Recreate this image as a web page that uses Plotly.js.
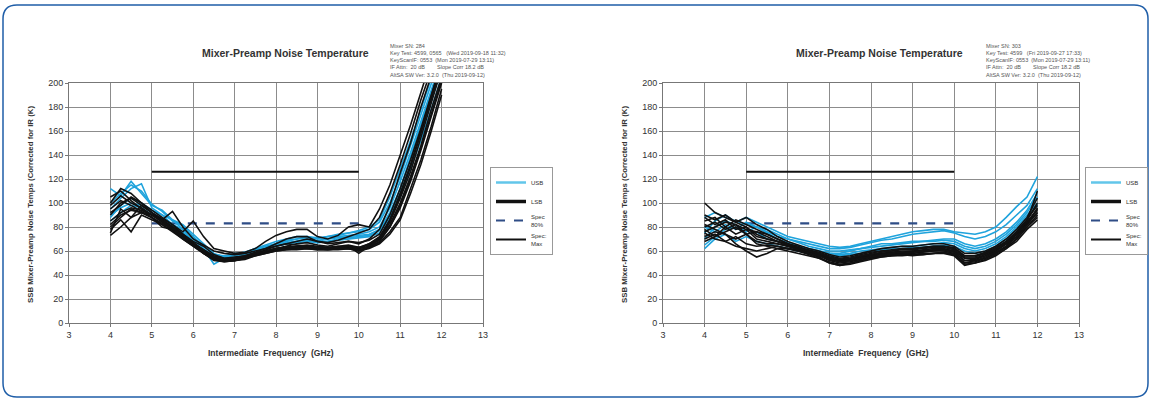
<!DOCTYPE html>
<html>
<head>
<meta charset="utf-8">
<script src="https://cdn.plot.ly/plotly-3.0.1.min.js"></script>
<style>
html,body{margin:0;padding:0;background:#fff;}
#chart{width:1151px;height:400px;}
</style>
</head>
<body>
<div id="chart"></div>
<script>
// ---- data ----
const FREQ_GHZ = [4,4.25,4.5,4.75,5,5.25,5.5,5.75,6,6.25,6.5,6.75,7,7.25,7.5,7.75,8,8.25,8.5,8.75,9,9.25,9.5,9.75,10,10.25,10.5,10.75,11,11.25,11.5,11.75,12];

const X_TICKS = [3,4,5,6,7,8,9,10,11,12,13];
const Y_TICKS = [0,20,40,60,80,100,120,140,160,180,200];

const SPEC_X = [5,10];
const SPEC_80 = [83,83];
const SPEC_MAX = [126,126];

// Left chart (Mixer SN 284)
const LEFT_USB = [
  [112,106,118,108,98,94,86,82,74,66,58,55,56,58,62,65,68,70,72,72,70,72,74,75,76,78,84,100,122,148,175,200,225],
  [95,104,112,116,96,90,86,78,72,62,49,54,55,57,60,63,66,68,70,71,68,70,71,72,73,74,78,92,112,138,165,192,218],
  [88,98,104,100,94,90,82,78,68,60,54,55,58,58,61,64,66,69,70,72,71,72,73,75,77,80,86,105,128,152,178,204,230],
  [85,92,98,96,90,86,82,75,70,62,56,55,57,59,62,64,65,67,68,70,69,70,72,73,74,76,80,96,118,142,168,195,220],
  [100,108,115,110,99,93,85,81,72,64,57,56,57,59,61,63,64,66,67,68,67,68,70,71,72,73,77,90,108,132,158,185,212],
  [90,96,100,98,92,87,81,76,67,61,55,53,54,56,59,62,64,66,68,69,67,68,69,70,71,72,75,88,105,128,152,178,205]
];
const LEFT_LSB = [
  [75,95,88,98,92,85,80,74,67,60,54,52,52,54,57,59,61,62,63,63,62,62,63,63,62,64,70,82,100,122,148,178,205],
  [80,88,95,92,88,80,78,72,66,58,53,51,52,53,56,58,60,61,62,62,61,61,62,62,60,63,68,80,96,118,144,172,200],
  [105,110,102,95,90,86,93,80,70,65,60,58,57,58,60,62,64,66,65,64,63,62,64,63,62,66,72,86,106,130,158,188,215],
  [100,112,108,100,94,88,82,74,68,64,57,54,54,55,58,60,62,63,64,64,63,63,63,64,63,65,70,84,104,126,154,184,212],
  [90,100,104,98,92,87,82,76,85,72,62,60,58,59,62,68,73,76,78,78,72,70,73,80,82,80,95,115,140,165,192,220,240],
  [85,92,96,94,90,86,80,72,66,60,55,52,53,55,57,59,62,64,66,67,65,64,66,68,66,70,78,98,125,150,180,208,232],
  [95,102,98,93,88,82,76,70,64,58,52,51,52,54,56,58,60,61,61,62,61,61,61,62,60,62,66,74,86,108,132,160,190],
  [78,86,76,90,86,82,77,70,64,58,53,52,53,55,58,61,64,66,68,70,68,67,69,72,75,78,88,108,132,158,186,212,236],
  [92,98,105,100,92,86,80,73,66,61,56,54,55,56,59,62,66,70,72,72,68,66,67,68,67,69,74,90,112,136,162,190,218],
  [98,106,100,96,90,84,78,72,65,59,54,52,53,54,57,59,61,62,62,63,62,61,62,62,61,63,67,76,88,112,136,164,195],
  [82,90,94,92,88,83,78,71,65,60,55,53,54,55,58,60,62,63,64,65,64,63,64,65,63,66,71,86,108,132,160,190,218],
  [73,80,88,92,90,85,79,73,67,61,55,53,54,56,58,60,62,63,63,64,63,62,63,64,58,64,69,80,98,120,146,175,202]
];

// Right chart (Mixer SN 303)
const RIGHT_USB = [
  [75,85,90,84,88,84,80,76,72,70,68,66,64,63,64,66,68,70,72,74,76,77,78,78,76,75,74,76,80,88,97,105,122],
  [70,80,85,82,76,80,76,72,70,68,66,64,62,62,63,65,67,69,70,72,74,75,76,77,75,72,70,72,76,82,90,98,112],
  [65,72,78,80,74,76,70,68,66,64,62,60,58,58,60,62,63,64,65,66,67,68,68,69,68,64,62,64,68,74,82,92,105],
  [88,92,88,85,82,80,78,74,70,67,64,62,60,60,61,62,64,66,66,67,68,68,69,70,70,66,64,66,70,76,84,94,108],
  [80,76,82,78,84,80,75,70,67,64,62,60,58,57,58,60,61,62,63,64,64,65,66,67,66,62,60,62,66,72,80,90,100],
  [62,70,74,68,72,68,66,64,62,60,58,57,56,56,57,58,60,61,62,62,63,63,64,65,64,60,58,60,64,70,78,88,98]
];
const RIGHT_LSB = [
  [100,92,88,84,80,72,70,68,66,64,60,58,55,53,54,56,58,60,60,62,62,63,64,64,62,56,56,58,62,68,76,86,100],
  [85,88,80,86,82,78,74,70,66,62,60,58,54,52,53,55,57,58,59,60,60,61,62,62,60,54,54,56,60,66,74,84,95],
  [78,72,80,74,78,70,68,66,64,62,60,56,52,50,51,53,55,56,57,58,58,59,60,60,58,50,52,54,58,64,72,82,92],
  [70,74,68,72,66,64,65,64,62,60,58,55,50,48,49,51,53,55,56,56,57,57,58,58,56,48,50,52,56,62,70,80,88],
  [82,78,74,66,60,55,58,62,62,61,59,57,54,52,53,55,56,57,58,58,59,60,61,61,59,52,53,56,60,66,74,84,94],
  [90,86,90,84,88,82,78,72,68,65,62,60,57,55,56,58,60,62,63,64,64,65,66,66,64,58,58,60,64,70,78,88,104],
  [75,70,68,64,62,60,62,64,62,60,57,54,51,49,50,52,54,55,56,57,57,58,58,59,57,50,51,54,58,63,70,80,90],
  [68,72,76,80,74,76,72,68,64,62,60,57,53,51,52,54,56,58,58,59,60,60,61,61,60,54,54,57,61,66,72,82,96],
  [80,84,78,82,78,76,74,70,66,63,61,59,56,54,55,57,59,60,61,62,62,63,64,64,63,56,56,59,63,68,76,86,98],
  [72,76,74,70,74,66,64,62,60,58,56,54,50,48,50,52,54,56,57,57,56,57,58,59,57,49,50,53,57,62,68,78,86],
  [88,82,86,78,80,74,70,68,65,62,60,58,55,53,54,56,57,59,60,61,61,62,63,63,61,55,55,58,62,67,75,85,110],
  [76,80,84,82,74,68,66,66,64,61,58,56,53,51,52,54,55,57,58,59,59,60,60,61,59,52,52,55,59,64,72,82,92]
];

const TITLE_TEXT = "Mixer-Preamp Noise Temperature";
const X_TITLE = "Intermediate  Frequency  (GHz)";
const Y_TITLE = "SSB Mixer-Preamp Noise Temps (Corrected for IR (K)";
const LEFT_INFO = ["Mixer SN: 284","Key Test: 4599, 0565   (Wed 2019-09-18 11:32)","KeyScanIF: 0553  (Mon 2019-07-29 13:11)","IF Attn:  20 dB        Slope Corr 18.2 dB","AltSA SW Ver: 3.2.0  (Thu 2019-09-12)"];
const RIGHT_INFO = ["Mixer SN: 303","Key Test: 4599   (Fri 2019-09-27 17:33)","KeyScanIF: 0553  (Mon 2019-07-29 13:11)","IF Attn:  20 dB        Slope Corr 18.2 dB","AltSA SW Ver: 3.2.0  (Thu 2019-09-12)"];

// ---- build ----
const W = 1151, H = 400;
const CYAN = "#1fa3dc";
const FONT = "Liberation Sans, Arial, sans-serif";
const px = v => v / W;
const py = v => 1 - v / H;

function panel(xa, ya, leg, usb, lsb) {
  const t = [];
  t.push({x: SPEC_X, y: SPEC_80, xaxis: xa, yaxis: ya, mode: "lines", name: "Spec<br>80%", legend: leg, legendrank: 3,
          line: {color: "#2f4d86", width: 2.2, dash: "dash"}, hoverinfo: "skip"});
  t.push({x: SPEC_X, y: SPEC_MAX, xaxis: xa, yaxis: ya, mode: "lines", name: "Spec:<br>Max", legend: leg, legendrank: 4,
          line: {color: "#111", width: 2}, hoverinfo: "skip"});
  usb.forEach(s => t.push({x: FREQ_GHZ, y: s, xaxis: xa, yaxis: ya, mode: "lines", showlegend: false,
          line: {color: CYAN, width: 1.6}, hoverinfo: "skip"}));
  lsb.forEach(s => t.push({x: FREQ_GHZ, y: s, xaxis: xa, yaxis: ya, mode: "lines", showlegend: false,
          line: {color: "#111", width: 1.6}, hoverinfo: "skip"}));
  t.push({x: [null], y: [null], xaxis: xa, yaxis: ya, mode: "lines", name: "USB", legend: leg, legendrank: 1,
          line: {color: "#62c6ea", width: 2.5}});
  t.push({x: [null], y: [null], xaxis: xa, yaxis: ya, mode: "lines", name: "LSB", legend: leg, legendrank: 2,
          line: {color: "#111", width: 3.5}});
  return t;
}

const traces = panel("x", "y", "legend", LEFT_USB, LEFT_LSB).concat(panel("x2", "y2", "legend2", RIGHT_USB, RIGHT_LSB));

const yDom = [py(323), py(83)];
function xax(dom, anchor) {
  return {domain: dom, anchor: anchor, range: [3, 13], tickvals: X_TICKS, ticktext: X_TICKS.map(String),
          showgrid: true, gridcolor: "#8c8c8c", gridwidth: 1, showline: true, mirror: true, linecolor: "#777", linewidth: 1,
          ticks: "outside", ticklen: 3, tickcolor: "#777", zeroline: false, fixedrange: true,
          tickfont: {family: FONT, size: 9, color: "#333"}};
}
function yax(anchor) {
  return {domain: yDom, anchor: anchor, range: [0, 200], tickvals: Y_TICKS, ticktext: Y_TICKS.map(String),
          showgrid: true, gridcolor: "#8c8c8c", gridwidth: 1, showline: true, mirror: true, linecolor: "#777", linewidth: 1,
          ticks: "outside", ticklen: 3, tickcolor: "#777", zeroline: false, fixedrange: true,
          tickfont: {family: FONT, size: 9, color: "#333"}};
}
function legend(xp) {
  return {x: px(xp), y: py(167), xanchor: "left", yanchor: "top", xref: "paper", yref: "paper",
          bgcolor: "#fff", bordercolor: "#999", borderwidth: 1, itemwidth: 30, tracegroupgap: 0,
          font: {family: FONT, size: 6, color: "#333"}, traceorder: "normal"};
}

const annFont = {family: FONT, color: "#333"};
function panelAnn(titleX, infoX, axisCenter, yTitleX, info) {
  return [
    {text: "<b>" + TITLE_TEXT + "</b>", x: px(titleX), y: py(53), xref: "paper", yref: "paper", showarrow: false,
     xanchor: "center", yanchor: "middle", font: Object.assign({size: 10.5}, annFont)},
    {text: info.join("<br>"), x: px(infoX), y: py(41), xref: "paper", yref: "paper", showarrow: false,
     xanchor: "left", yanchor: "top", align: "left", font: {family: FONT, size: 5.5, color: "#555"}},
    {text: "<b>" + X_TITLE + "</b>", x: px(axisCenter), y: py(353), xref: "paper", yref: "paper", showarrow: false,
     xanchor: "center", yanchor: "middle", font: Object.assign({size: 8.5}, annFont)},
    {text: "<b>" + Y_TITLE + "</b>", x: px(yTitleX), y: py(205), xref: "paper", yref: "paper", showarrow: false,
     textangle: -90, xanchor: "center", yanchor: "middle", font: Object.assign({size: 7.8}, annFont)}
  ];
}

// rounded blue frame
const fx0 = px(3), fx1 = px(1148), fyT = py(5), fyB = py(397), rx = px(14), ry = 14 / H;
const framePath = `M ${fx0 + rx},${fyT} L ${fx1 - rx},${fyT} Q ${fx1},${fyT} ${fx1},${fyT - ry} L ${fx1},${fyB + ry} Q ${fx1},${fyB} ${fx1 - rx},${fyB} L ${fx0 + rx},${fyB} Q ${fx0},${fyB} ${fx0},${fyB + ry} L ${fx0},${fyT - ry} Q ${fx0},${fyT} ${fx0 + rx},${fyT} Z`;

const layout = {
  width: W, height: H,
  margin: {l: 0, r: 0, t: 0, b: 0},
  paper_bgcolor: "#fff", plot_bgcolor: "#fff",
  showlegend: true,
  xaxis: xax([px(69), px(483)], "y"),
  yaxis: yax("x"),
  xaxis2: xax([px(663), px(1079)], "y2"),
  yaxis2: yax("x2"),
  legend: legend(490),
  legend2: legend(1085),
  annotations: panelAnn(285, 388, 271, 31, LEFT_INFO).concat(panelAnn(879, 984, 866, 625, RIGHT_INFO)),
  shapes: [{type: "path", path: framePath, xref: "paper", yref: "paper", line: {color: "#1f5ea8", width: 1.5}, fillcolor: "rgba(0,0,0,0)", layer: "below"}]
};

Plotly.newPlot("chart", traces, layout, {staticPlot: true, displayModeBar: false});
</script>
</body>
</html>
